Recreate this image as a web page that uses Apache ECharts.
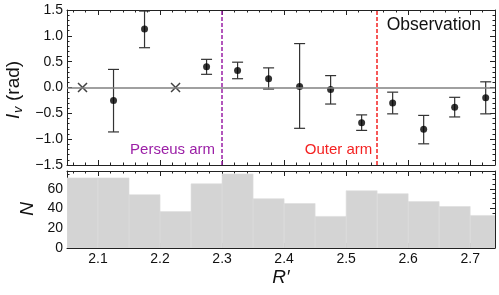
<!DOCTYPE html>
<html>
<head>
<meta charset="utf-8">
<script src="https://cdn.jsdelivr.net/npm/echarts@6/dist/echarts.min.js"></script>
<style>
html,body{margin:0;padding:0;background:#fff;}
#chart{width:499px;height:295px;}
</style>
</head>
<body>
<div id="chart"></div>
<script>
// ---- data ----
var R = [2.125, 2.175, 2.275, 2.325, 2.375, 2.425, 2.475, 2.525, 2.575, 2.625, 2.675, 2.725];
var Iv = [-0.25, 1.13, 0.40, 0.33, 0.17, 0.02, -0.04, -0.68, -0.30, -0.81, -0.38, -0.20];
var errLo = [-0.86, 0.77, 0.255, 0.17, -0.03, -0.79, -0.32, -0.83, -0.51, -1.09, -0.57, -0.51];
var errHi = [0.35, 1.48, 0.545, 0.49, 0.38, 0.85, 0.23, -0.53, -0.09, -0.54, -0.19, 0.11];
var crossR = [2.075, 2.225];
var crossIv = [0, 0];
var binEdges = [2.05, 2.10, 2.15, 2.20, 2.25, 2.30, 2.35, 2.40, 2.45, 2.50, 2.55, 2.60, 2.65, 2.70, 2.75];
var counts = [71, 71, 54, 37, 65, 75, 50, 45, 32, 58, 55, 47, 42, 33];
var armR = [2.3, 2.547];
var armNames = ['Perseus arm', 'Outer arm'];
var topTicks = [-1.5, -1.0, -0.5, 0.0, 0.5, 1.0, 1.5];
var botTicks = [0, 20, 40, 60];

var FONT = '"Liberation Sans", Arial, Helvetica, sans-serif';
var xMin = 2.05, xMax = 2.74;
var PURPLE = '#9b1fa6', RED = '#f42222', FRAME = '#222';

function frameAxis(extra) {
  var a = {
    type: 'value',
    axisLine: { show: true, onZero: false, lineStyle: { color: FRAME, width: 1 } },
    axisTick: { show: true, inside: true, length: 5, lineStyle: { color: FRAME, width: 1 } },
    minorTick: { show: true, length: 2.5, lineStyle: { color: FRAME, width: 1 } },
    splitLine: { show: false },
    minorSplitLine: { show: false },
    axisLabel: { show: false }
  };
  for (var k in extra) a[k] = extra[k];
  return a;
}

var labelStyle = { show: true, color: '#111', fontSize: 14, fontFamily: FONT, showMinLabel: false, showMaxLabel: false };

var xAxes = [
  frameAxis({ gridIndex: 0, position: 'bottom', min: xMin, max: xMax, splitNumber: 7 }),
  frameAxis({ gridIndex: 0, position: 'top', min: xMin, max: xMax, splitNumber: 7 }),
  frameAxis({ gridIndex: 1, position: 'bottom', min: xMin, max: xMax, splitNumber: 7,
    axisLabel: Object.assign({}, labelStyle, { margin: 4, formatter: function (v) { return v.toFixed(1); } }),
    name: 'R\u2032', nameLocation: 'middle', nameGap: 20,
    nameTextStyle: { fontSize: 19, fontStyle: 'italic', fontFamily: FONT, color: '#111' } }),
  frameAxis({ gridIndex: 1, position: 'top', min: xMin, max: xMax, splitNumber: 7 })
];
xAxes.forEach(function (a) { a.minorTick.splitNumber = 5; });

var yAxes = [
  frameAxis({ gridIndex: 0, position: 'left', min: -1.5, max: 1.5, interval: 0.5,
    axisLabel: { show: true, color: '#111', fontSize: 14, fontFamily: FONT, margin: 4,
      formatter: function (v) { return v.toFixed(1).replace('-', '\u2212'); } } }),
  frameAxis({ gridIndex: 0, position: 'right', min: -1.5, max: 1.5, interval: 0.5 }),
  frameAxis({ gridIndex: 1, position: 'left', min: 0, max: 78, interval: 20,
    axisLabel: Object.assign({}, labelStyle, { margin: 4, showMinLabel: true }) }),
  frameAxis({ gridIndex: 1, position: 'right', min: 0, max: 78, interval: 20 })
];
yAxes[0].minorTick.splitNumber = 5;
yAxes[1].minorTick.splitNumber = 5;
yAxes[2].minorTick.splitNumber = 4;
yAxes[3].minorTick.splitNumber = 4;

var histData = counts.map(function (c, i) { return [binEdges[i], binEdges[i + 1], c]; });
var errData = R.map(function (r, i) { return [r, errLo[i], errHi[i]]; });
var ptData = R.map(function (r, i) { return [r, Iv[i]]; });
var crossData = crossR.map(function (r, i) { return [r, crossIv[i]]; });

var chart = echarts.init(document.getElementById('chart'), null, { renderer: 'canvas' });

chart.setOption({
  animation: false,
  backgroundColor: '#fff',
  textStyle: { fontFamily: FONT },
  grid: [
    { left: 67, right: 4, top: 10, height: 155, outerBoundsMode: 'none' },
    { left: 67, right: 4, top: 171, height: 77, outerBoundsMode: 'none' }
  ],
  xAxis: xAxes,
  yAxis: yAxes,
  series: [
    {
      type: 'custom', xAxisIndex: 2, yAxisIndex: 2, clip: true, z: 1,
      data: histData,
      renderItem: function (params, api) {
        var p0 = api.coord([api.value(0), api.value(2)]);
        var p1 = api.coord([api.value(1), 0]);
        return { type: 'rect', shape: { x: p0[0], y: p0[1], width: p1[0] - p0[0], height: p1[1] - p0[1] },
          style: { fill: '#d4d4d4', stroke: '#dedede', lineWidth: 0.6 } };
      }
    },
    {
      type: 'line', xAxisIndex: 0, yAxisIndex: 0, data: [], z: 1,
      markLine: {
        silent: true, symbol: 'none', animation: false,
        label: { show: false },
        data: [
          { yAxis: 0, lineStyle: { color: '#808080', width: 1.5, type: 'solid' } },
          { xAxis: armR[0], lineStyle: { color: PURPLE, width: 1.5, type: [4, 2] } },
          { xAxis: armR[1], lineStyle: { color: RED, width: 1.5, type: [4, 2] } }
        ]
      }
    },
    {
      type: 'custom', xAxisIndex: 0, yAxisIndex: 0, clip: true, z: 3,
      data: errData,
      renderItem: function (params, api) {
        var x = api.value(0);
        var pt = api.coord([x, api.value(2)]);
        var pb = api.coord([x, api.value(1)]);
        var w = 5.5;
        var st = { stroke: '#333', lineWidth: 1.2 };
        return { type: 'group', children: [
          { type: 'line', shape: { x1: pt[0], y1: pt[1], x2: pb[0], y2: pb[1] }, style: st },
          { type: 'line', shape: { x1: pt[0] - w, y1: pt[1], x2: pt[0] + w, y2: pt[1] }, style: st },
          { type: 'line', shape: { x1: pb[0] - w, y1: pb[1], x2: pb[0] + w, y2: pb[1] }, style: st }
        ] };
      }
    },
    {
      type: 'scatter', xAxisIndex: 0, yAxisIndex: 0, z: 4,
      data: ptData, symbol: 'circle', symbolSize: 7,
      itemStyle: { color: '#000' }
    },
    {
      type: 'scatter', xAxisIndex: 0, yAxisIndex: 0, z: 4,
      data: crossData, symbol: 'path://M0,0L10,10M10,0L0,10', symbolSize: 9,
      itemStyle: { color: 'none', borderColor: '#111', borderWidth: 1.5 }
    }
  ]
});

var pP = chart.convertToPixel({ xAxisIndex: 0, yAxisIndex: 0 }, [armR[0], -1.21]);
var pO = chart.convertToPixel({ xAxisIndex: 0, yAxisIndex: 0 }, [armR[1], -1.21]);

chart.setOption({
  graphic: [
    { type: 'text', x: pP[0] - 7, y: pP[1], style: { text: armNames[0], fill: PURPLE, font: '15px ' + FONT, align: 'right', verticalAlign: 'middle' } },
    { type: 'text', x: pO[0] - 3, y: pO[1], style: { text: armNames[1], fill: RED, font: '15px ' + FONT, align: 'right', verticalAlign: 'middle' } },
    { type: 'text', x: 481, y: 25, style: { text: 'Observation', fill: '#111', font: '17.5px ' + FONT, align: 'right', verticalAlign: 'middle' } },
    { type: 'group', x: 14, y: 119, rotation: Math.PI / 2, children: [
      { type: 'text', x: 0, y: 0, style: { text: 'I', fill: '#111', font: 'italic 19px ' + FONT, align: 'left', verticalAlign: 'middle' } },
      { type: 'text', x: 6, y: 4, style: { text: 'v', fill: '#111', font: 'italic 13px ' + FONT, align: 'left', verticalAlign: 'middle' } },
      { type: 'text', x: 18, y: 0, style: { text: '(rad)', fill: '#111', font: '19px ' + FONT, align: 'left', verticalAlign: 'middle' } }
    ] },
    { type: 'text', x: 28, y: 209, rotation: Math.PI / 2, style: { text: 'N', fill: '#111', font: 'italic 19px ' + FONT, align: 'center', verticalAlign: 'middle' } }
  ]
});
</script>
</body>
</html>
